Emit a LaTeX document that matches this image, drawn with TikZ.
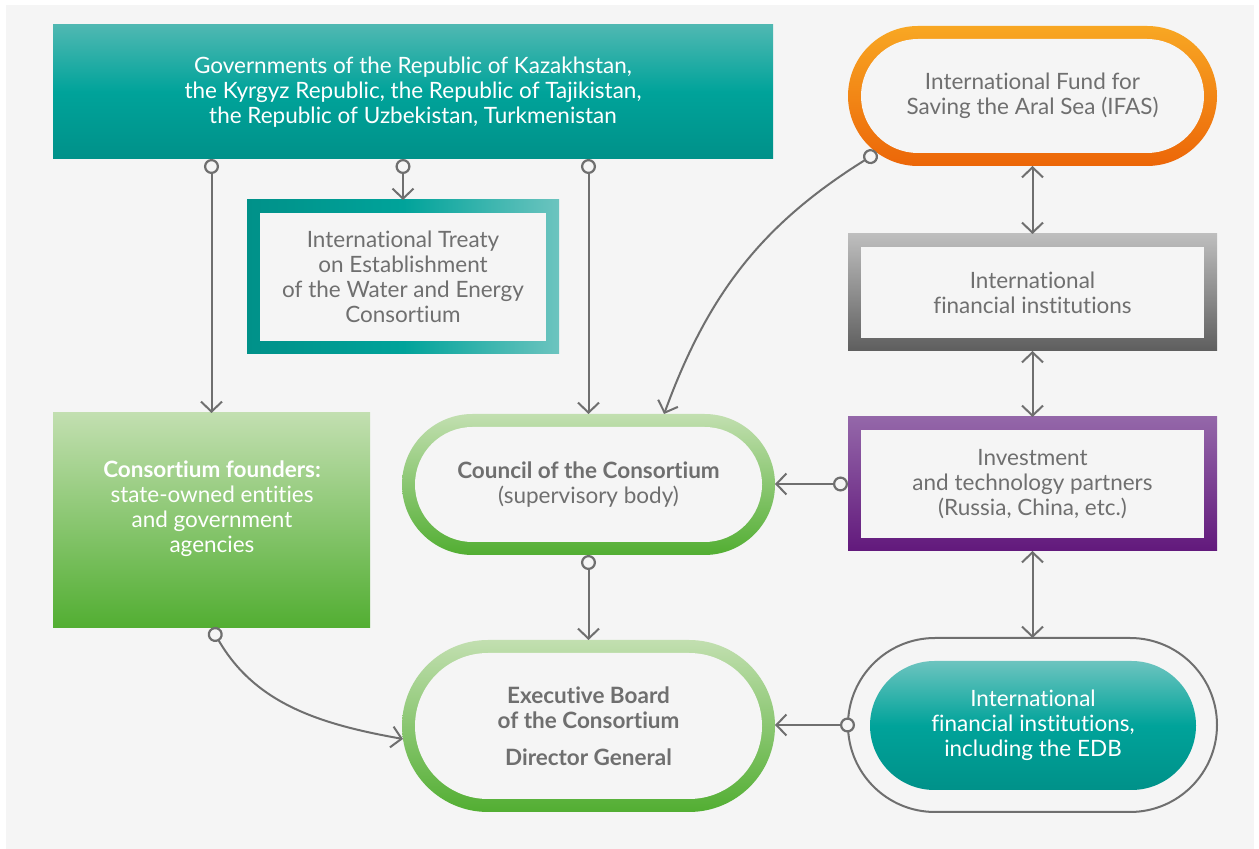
\documentclass[tikz,border=0pt]{standalone}
\usepackage{fontspec}
\setmainfont{Lato}[Ligatures={NoCommon}]
\usetikzlibrary{arrows.meta,shapes.misc}
\definecolor{bgcol}{HTML}{F5F5F5}
\definecolor{linecol}{HTML}{6F6F6F}
\definecolor{txtgray}{HTML}{6F6F6F}
\definecolor{tealA}{HTML}{4FB8B2}
\definecolor{tealB}{HTML}{00A39A}
\definecolor{tealC}{HTML}{009189}
\definecolor{tealD}{HTML}{6CC4BF}
\definecolor{greenA}{HTML}{C2DFB0}
\definecolor{greenB}{HTML}{52AE32}
\definecolor{orangeA}{HTML}{F8A723}
\definecolor{orangeB}{HTML}{EC6608}
\definecolor{grayA}{HTML}{BEBEBE}
\definecolor{grayB}{HTML}{5E5E5E}
\definecolor{purpleA}{HTML}{9467A9}
\definecolor{purpleB}{HTML}{62197C}
\newcommand\boxfont{\fontsize{22.5}{25}\selectfont}
\tikzset{
  box/.style={rectangle,inner sep=0pt,outer sep=0pt},
  pill/.style={rounded rectangle,inner sep=0pt,outer sep=0pt},
  hole/.style={fill=bgcol,text=txtgray,align=center,font=\boxfont},
  light/.style={text=white,align=center,font=\boxfont},
  link/.style={draw=linecol,line width=2pt,{Circle[length=15pt,fill=bgcol,line width=2.2pt]}-{Straight Barb[length=10pt,width=21pt]}},
  both/.style={draw=linecol,line width=2pt,{Straight Barb[length=10pt,width=21pt]}-{Straight Barb[length=10pt,width=21pt]}}
}
\begin{document}
\begin{tikzpicture}[x=1pt,y=1pt]
\useasboundingbox (0,0) rectangle (1259,849);
\fill[bgcol] (6,0) rectangle (1254,844);

\node[box,light,minimum width=720,minimum height=134,top color=tealA,bottom color=tealC,middle color=tealB] (gov) at (413,757) {Governments of the Republic of Kazakhstan,\\the Kyrgyz Republic, the Republic of Tajikistan,\\the Republic of Uzbekistan, Turkmenistan};

\node[box,minimum width=312,minimum height=154,left color=tealC,right color=tealD,middle color=tealB] (treaty) at (403,572) {};
\node[box,hole,minimum width=286,minimum height=128] (treaty-in) at (treaty) {International Treaty\\on Establishment\\of the Water and Energy\\Consortium};

\node[box,minimum width=317,minimum height=215,top color=greenA,bottom color=greenB] (founders) at (211.5,328.5) {};
\node[light] (founders-txt) at (212,340) {\textbf{Consortium founders:}\\state-owned entities\\and government\\agencies};

\node[pill,minimum width=373,minimum height=141,top color=greenA,bottom color=greenB] (council) at (588.5,364.5) {};
\node[pill,hole,minimum width=347,minimum height=115] (council-in) at (council) {\textbf{Council of the Consortium}\\(supervisory body)};

\node[pill,minimum width=373,minimum height=172,top color=greenA,bottom color=greenB] (exec) at (588.5,123) {};
\node[pill,hole,minimum width=347,minimum height=146,font=\boxfont\bfseries] (exec-in) at (exec) {Executive Board\\of the Consortium\\[12pt]Director General};

\node[pill,minimum width=369,minimum height=140,top color=orangeA,bottom color=orangeB] (ifas) at (1032.5,753) {};
\node[pill,hole,minimum width=343,minimum height=114] (ifas-in) at (ifas) {International Fund for\\Saving the Aral Sea (IFAS)};

\node[box,minimum width=369,minimum height=117,top color=grayA,bottom color=grayB] (ifi) at (1032.5,556.5) {};
\node[box,hole,minimum width=343,minimum height=91] (ifi-in) at (ifi) {International\\financial institutions};

\node[box,minimum width=369,minimum height=134,top color=purpleA,bottom color=purpleB] (invest) at (1032.5,365) {};
\node[box,hole,minimum width=343,minimum height=108] (invest-in) at (invest) {Investment\\and technology partners\\(Russia, China, etc.)};

\node[pill,draw=linecol,line width=2pt,minimum width=369,minimum height=174] (edb) at (1032.5,124) {};
\node[pill,light,minimum width=326,minimum height=129,top color=tealD,bottom color=tealC,middle color=tealB] (edb-in) at (1033,123.5) {International\\financial institutions,\\including the EDB};

\draw[link] (gov.south -| founders.north) -- (founders.north);
\draw[link] (gov.south -| treaty.north) -- (treaty.north);
\draw[link] (gov.south -| council.north) -- (council.north);
\draw[link] (council.south) -- (exec.north);
\draw[link] (founders.south) to[out=-60,in=170] (exec.184);
\draw[link] (ifas.200) to[out=212,in=70] (council.43);
\draw[link] (invest.west) -- (invest.west -| council.east);
\draw[link,shorten <=-7pt] (edb.west) -- (edb.west -| exec.east);
\draw[both] (ifas.south) -- (ifi.north);
\draw[both] (ifi.south) -- (invest.north);
\draw[both] (invest.south) -- (edb.north);
\end{tikzpicture}
\end{document}
